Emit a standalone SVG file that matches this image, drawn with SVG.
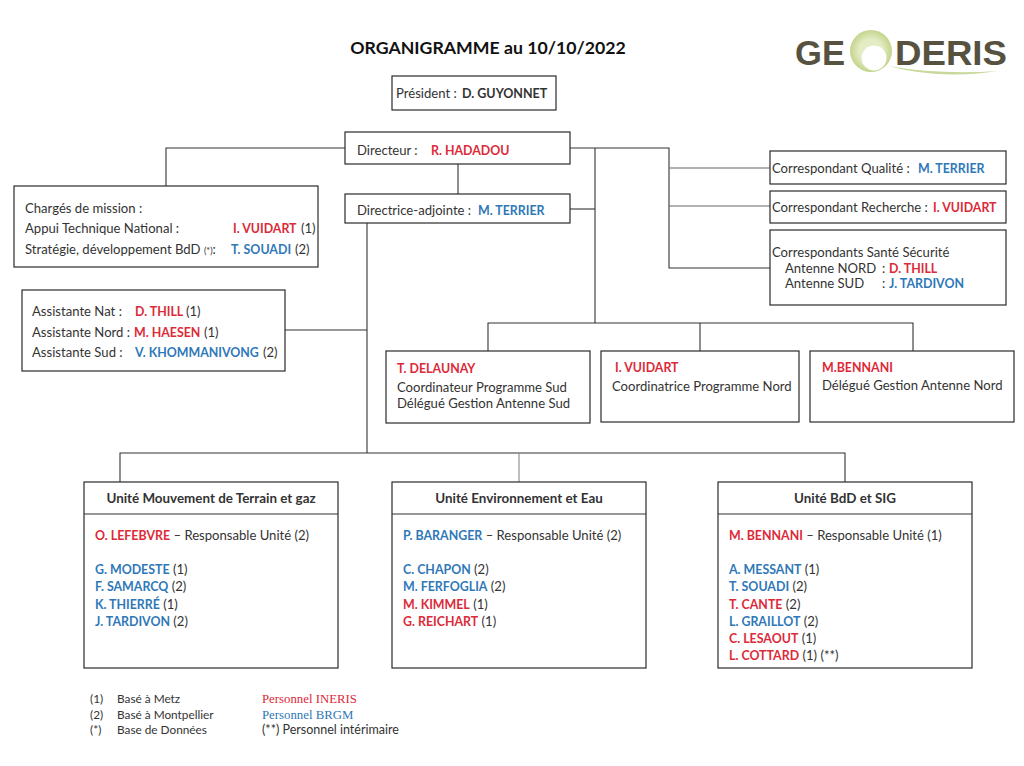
<svg xmlns="http://www.w3.org/2000/svg" width="1024" height="766" viewBox="0 0 1024 766">
<defs>
<radialGradient id="ring" cx="0.5" cy="0.5" r="0.5"><stop offset="0.55" stop-color="#e4ecc4"/><stop offset="1" stop-color="#c3d48c"/></radialGradient>
</defs>
<style>
text{font-family:"Lato","Carlito","Liberation Sans",sans-serif;font-size:13.1px;fill:#333;}
.box{fill:#fff;stroke:#2a2a2a;stroke-width:1.2;}
.line{fill:none;stroke:#333;stroke-width:1.1;}
.r{fill:#dc2a38;font-weight:700;font-size:12.4px;}
.b{fill:#2f78b8;font-weight:700;font-size:12.4px;}
.h{font-weight:700;fill:#333;font-size:12.5px;}
.u{font-weight:700;fill:#333;font-size:13.4px;}
.leg{font-size:11.8px;}
.ser{font-family:"Liberation Serif",serif;font-size:12.8px;}
</style>
<rect width="1024" height="766" fill="#fff"/>
<text id="title" x="488" y="54" text-anchor="middle" style="font-size:17.7px;font-weight:700;fill:#111">ORGANIGRAMME au 10/10/2022</text>
<g id="logo">
<path d="M888 66Q940 80 998 71Q940 75 888 66Z" fill="#c9d89a"/>
<circle cx="871" cy="51" r="21" fill="url(#ring)"/>
<circle cx="874" cy="58" r="12.5" fill="#fff"/>
<text x="795" y="65" style="font-family:'Liberation Sans',sans-serif;font-size:35px;font-weight:700;fill:#56523f" textLength="50" lengthAdjust="spacingAndGlyphs">GE</text>
<text x="895" y="65" style="font-family:'Liberation Sans',sans-serif;font-size:35px;font-weight:700;fill:#56523f" textLength="112" lengthAdjust="spacingAndGlyphs">DERIS</text>
</g>
<g id="connectors">
<path class="line" d="M345 148H166V186"/>
<path class="line" d="M458 164V194"/>
<path class="line" d="M570 148H669V268H770"/>
<path class="line" d="M669 168H770" style="stroke:#666"/>
<path class="line" d="M669 206H770" style="stroke:#666"/>
<path class="line" d="M595 148V323"/>
<path class="line" d="M570 209H595"/>
<path class="line" d="M488 351V323H913V351"/>
<path class="line" d="M700 323V351"/>
<path class="line" d="M367 223V453"/>
<path class="line" d="M285 330H367"/>
<path class="line" d="M120 482V453H845V482"/>
<path class="line" d="M519 453V482" style="stroke:#888"/>
</g>
<g id="president"><rect class="box" x="392" y="76" width="164" height="34"/>
<text x="396" y="98">Président :</text><text class="h" x="462" y="98">D. GUYONNET</text></g>
<g id="directeur"><rect class="box" x="345" y="132" width="225" height="32"/>
<text x="357" y="155">Directeur  :</text><text class="r" x="431" y="155">R. HADADOU</text></g>
<g id="directrice"><rect class="box" x="345" y="194" width="225" height="29"/>
<text x="357" y="215">Directrice-adjointe :</text><text class="b" x="478" y="215">M. TERRIER</text></g>
<g id="charges"><rect class="box" x="14" y="186" width="304" height="81"/>
<text x="25" y="213">Chargés de mission :</text>
<text x="25" y="233">Appui Technique National :</text>
<text class="r" x="233" y="233">I. VUIDART</text><text x="301" y="233">(1)</text>
<text x="25" y="254">Stratégie, développement BdD <tspan style="font-size:9px">(*)</tspan>:</text>
<text class="b" x="231" y="254">T. SOUADI</text><text x="295" y="254">(2)</text></g>
<g id="assistantes"><rect class="box" x="22" y="290" width="263" height="81"/>
<text x="32" y="316">Assistante  Nat :</text><text class="r" x="135" y="316">D. THILL</text><text x="186" y="316">(1)</text>
<text x="32" y="337">Assistante Nord :</text><text class="r" x="134" y="337">M. HAESEN</text><text x="204" y="337">(1)</text>
<text x="32" y="357">Assistante Sud :</text><text class="b" x="135" y="357">V. KHOMMANIVONG</text><text x="263" y="357">(2)</text></g>
<g id="qualite"><rect class="box" x="770" y="151" width="236" height="33"/>
<text x="772" y="173">Correspondant Qualité :</text><text class="b" x="918" y="173">M. TERRIER</text></g>
<g id="recherche"><rect class="box" x="770" y="191" width="236" height="32"/>
<text x="772" y="212">Correspondant Recherche :</text><text class="r" x="933" y="212">I. VUIDART</text></g>
<g id="sante"><rect class="box" x="770" y="230" width="236" height="75"/>
<text x="772" y="257">Correspondants Santé Sécurité</text>
<text x="785" y="273">Antenne NORD</text><text x="882" y="273">:</text><text class="r" x="889" y="273">D. THILL</text>
<text x="785" y="288">Antenne SUD</text><text x="882" y="288">:</text><text class="b" x="889" y="288">J. TARDIVON</text></g>
<g id="delaunay"><rect class="box" x="386" y="351" width="204" height="72"/>
<text class="r" x="397" y="373">T. DELAUNAY</text>
<text x="397" y="392">Coordinateur Programme Sud</text>
<text x="397" y="408">Délégué Gestion Antenne Sud</text></g>
<g id="vuidart"><rect class="box" x="601" y="351" width="198" height="71"/>
<text class="r" x="615" y="372">I. VUIDART</text>
<text x="612" y="391">Coordinatrice Programme Nord</text></g>
<g id="bennani"><rect class="box" x="810" y="351" width="204" height="71"/>
<text class="r" x="822" y="372">M.BENNANI</text>
<text x="822" y="390">Délégué Gestion Antenne Nord</text></g>
<g id="unite-terrain"><rect class="box" x="84" y="482" width="254" height="186"/><path class="line" d="M84 514H338"/>
<text class="u" x="211" y="503" text-anchor="middle">Unité Mouvement de Terrain et gaz</text>
<text x="95" y="540"><tspan class="r">O. LEFEBVRE</tspan> – Responsable Unité (2)</text>
<text x="95" y="574"><tspan class="b">G. MODESTE</tspan> (1)</text>
<text x="95" y="591"><tspan class="b">F. SAMARCQ</tspan> (2)</text>
<text x="95" y="609"><tspan class="b">K. THIERRÉ</tspan> (1)</text>
<text x="95" y="626"><tspan class="b">J. TARDIVON</tspan> (2)</text></g>
<g id="unite-env"><rect class="box" x="392" y="482" width="254" height="186"/><path class="line" d="M392 514H646"/>
<text class="u" x="519" y="503" text-anchor="middle">Unité Environnement et Eau</text>
<text x="403" y="540"><tspan class="b">P. BARANGER</tspan> – Responsable Unité (2)</text>
<text x="403" y="574"><tspan class="b">C. CHAPON</tspan> (2)</text>
<text x="403" y="591"><tspan class="b">M. FERFOGLIA</tspan> (2)</text>
<text x="403" y="609"><tspan class="r">M. KIMMEL</tspan> (1)</text>
<text x="403" y="626"><tspan class="r">G. REICHART</tspan> (1)</text></g>
<g id="unite-bdd"><rect class="box" x="718" y="482" width="254" height="186"/><path class="line" d="M718 514H972"/>
<text class="u" x="845" y="503" text-anchor="middle">Unité BdD et SIG</text>
<text x="729" y="540"><tspan class="r">M. BENNANI</tspan>  – Responsable Unité (1)</text>
<text x="729" y="574"><tspan class="b">A. MESSANT</tspan> (1)</text>
<text x="729" y="591"><tspan class="b">T. SOUADI</tspan> (2)</text>
<text x="729" y="609"><tspan class="r">T. CANTE</tspan> (2)</text>
<text x="729" y="626"><tspan class="b">L. GRAILLOT</tspan> (2)</text>
<text x="729" y="643"><tspan class="r">C. LESAOUT</tspan> (1)</text>
<text x="729" y="660"><tspan class="r">L. COTTARD</tspan> (1) (**)</text></g>
<g id="legende">
<text class="leg" x="90" y="703">(1)</text><text class="leg" x="117" y="703">Basé à Metz</text>
<text class="leg" x="90" y="719">(2)</text><text class="leg" x="117" y="719">Basé à Montpellier</text>
<text class="leg" x="90" y="734">(*)</text><text class="leg" x="117" y="734">Base de Données</text>
<text class="ser" x="262" y="703" style="fill:#dc2a38">Personnel INERIS</text>
<text class="ser" x="262" y="719" style="fill:#2f78b8">Personnel BRGM</text>
<text x="262" y="734" style="font-size:12.5px">(**) Personnel intérimaire</text>
</g>
</svg>
